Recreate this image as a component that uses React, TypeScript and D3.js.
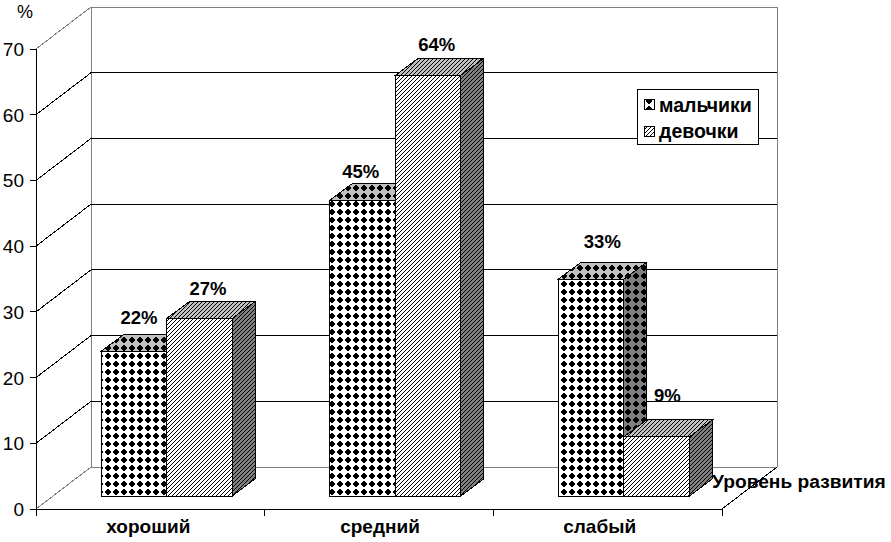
import * as d3 from 'd3'
import { useEffect, useRef } from 'react'

const categories = ['хороший', 'средний', 'слабый']
const seriesNames = ['мальчики', 'девочки']
const boys = [22, 45, 33]
const girls = [27, 64, 9]
const yTicks = [0, 10, 20, 30, 40, 50, 60, 70]

const width = 891
const height = 542
const font = 'Liberation Sans, Arial, sans-serif'

// oblique shift of the back wall and of the bars
const wallDx = 55
const wallDy = -42
const barDx = 23
const barDy = -17

export default function App() {
    const svgRef = useRef<SVGSVGElement>(null)

    useEffect(() => {
        if (!svgRef.current) return

        const svg = d3.select(svgRef.current)
        svg.selectAll('*').remove() // Clear previous chart

        const x = d3.scaleBand<string>().domain(categories).range([36, 722])
        const y = d3.scaleLinear().domain([0, 70]).range([509, 49])
        const inner = d3
            .scaleBand<string>()
            .domain(seriesNames)
            .range([0, 131])

        const defs = svg.append('defs')

        // dotted fill, base colour changes for front and shaded faces
        const dots = (id: string, bg: string) => {
            const p = defs
                .append('pattern')
                .attr('id', id)
                .attr('patternUnits', 'userSpaceOnUse')
                .attr('width', 8)
                .attr('height', 8)
            p.append('rect').attr('width', 8).attr('height', 8).attr('fill', bg)
            p.append('path')
                .attr('d', 'M4 0.5L7.5 4L4 7.5L0.5 4Z')
                .attr('fill', '#000')
        }
        dots('dots-front', '#fff')
        dots('dots-top', '#c0c0c0')
        dots('dots-side', '#808080')

        // 1px staircase hatch, same as the old bitmap fill
        const hatch = (id: string, bg: string) => {
            const p = defs
                .append('pattern')
                .attr('id', id)
                .attr('patternUnits', 'userSpaceOnUse')
                .attr('width', 4)
                .attr('height', 4)
            p.append('rect').attr('width', 4).attr('height', 4).attr('fill', bg)
            p.selectAll('rect.step')
                .data([0, 1, 2, 3])
                .enter()
                .append('rect')
                .attr('class', 'step')
                .attr('x', (d) => 3 - d)
                .attr('y', (d) => d)
                .attr('width', 1)
                .attr('height', 1)
                .attr('fill', '#000')
        }
        hatch('hatch-front', '#fff')
        hatch('hatch-top', '#c0c0c0')
        hatch('hatch-side', '#808080')

        const x0 = x.range()[0]
        const x1 = x.range()[1]
        const y0 = y(0)

        // Back wall and floor
        svg.append('path')
            .attr('d', `M${x0} ${y0}L${x0 + wallDx} ${y0 + wallDy}L${x1 + wallDx} ${y0 + wallDy}`)
            .attr('fill', 'none')
            .attr('stroke', '#808080')
        svg.append('path')
            .attr('d', `M${x0} ${y(70)}L${x0 + wallDx} ${y(70) + wallDy}L${x1 + wallDx} ${y(70) + wallDy}L${x1 + wallDx} ${y0 + wallDy}`)
            .attr('fill', 'none')
            .attr('stroke', '#808080')
        svg.append('line')
            .attr('x1', x0 + wallDx)
            .attr('x2', x0 + wallDx)
            .attr('y1', y(70) + wallDy)
            .attr('y2', y0 + wallDy)
            .attr('stroke', '#808080')

        // Gridlines on side and back wall
        yTicks
            .filter((t) => t > 0 && t < 70)
            .forEach((t) => {
                svg.append('path')
                    .attr('d', `M${x0} ${y(t)}L${x0 + wallDx} ${y(t) + wallDy}L${x1 + wallDx} ${y(t) + wallDy}`)
                    .attr('fill', 'none')
                    .attr('stroke', '#000')
            })

        // Bars, left to right
        const face = (d: string, fill: string) =>
            svg.append('path')
                .attr('d', d)
                .attr('fill', fill)
                .attr('stroke', '#000')
                .attr('stroke-linejoin', 'miter')

        const floorY = y0 - 13
        const shift = y(0) - floorY // bars stand forward of the wall on the floor

        const drawBar = (cat: string, name: string, value: number, kind: string) => {
            const left = (x(cat) as number) + 65 + (inner(name) as number)
            const right = left + inner.bandwidth()
            const top = y(value) - shift
            face(`M${left} ${top}L${left + barDx} ${top + barDy}L${right + barDx} ${top + barDy}L${right} ${top}Z`, `url(#${kind}-top)`)
            face(`M${right} ${top}L${right + barDx} ${top + barDy}L${right + barDx} ${floorY + barDy}L${right} ${floorY}Z`, `url(#${kind}-side)`)
            face(`M${left} ${top}L${right} ${top}L${right} ${floorY}L${left} ${floorY}Z`, `url(#${kind}-front)`)
        }

        categories.forEach((cat, i) => {
            drawBar(cat, seriesNames[0], boys[i], 'dots')
            drawBar(cat, seriesNames[1], girls[i], 'hatch')
        })

        // Axes
        const axisLine = (d: string) =>
            svg.append('path').attr('d', d).attr('fill', 'none').attr('stroke', '#000')
        axisLine(`M${x0} ${y(70)}L${x0} ${y0}L${x1} ${y0}`)
        axisLine(`M${x1} ${y0}L${x1 + wallDx} ${y0 + wallDy}`)
        yTicks.forEach((t) => axisLine(`M${x0 - 6} ${y(t)}L${x0} ${y(t)}`))
        categories.forEach((c) => axisLine(`M${x(c)} ${y0}L${x(c)} ${y0 + 7}`))
        axisLine(`M${x1} ${y0}L${x1} ${y0 + 7}`)

        const label = (tx: number, ty: number, s: string, size: number, weight: string, anchor = 'middle') =>
            svg.append('text')
                .attr('x', tx)
                .attr('y', ty)
                .attr('text-anchor', anchor)
                .attr('font-family', font)
                .attr('font-size', size)
                .attr('font-weight', weight)
                .attr('fill', '#000')
                .text(s)

        yTicks.forEach((t) => label(24, y(t) + 7, String(t), 19, 'normal', 'end'))
        label(25, 18, '%', 18, 'normal')

        // the original labels are not quite centred in their bands
        const catNudge = [-2, 1, -8]
        categories.forEach((c, i) =>
            label((x(c) as number) + x.bandwidth() / 2 + catNudge[i], 533, c, 19, 'bold')
        )
        label(712, 488, 'Уровень развития', 19.2, 'bold', 'start')

        // Value labels, hand placed in the original so nudged per bar
        const boysNudge = [[0, 0], [-7, 5], [6, -4]]
        const girlsNudge = [[0, 0], [0, 0], [2, -11]]
        categories.forEach((cat, i) => {
            const lx = (x(cat) as number) + 65
            label(lx + 38 + boysNudge[i][0], y(boys[i]) - shift - 27 + boysNudge[i][1], `${boys[i]}%`, 18.5, 'bold')
            label(lx + 107 + girlsNudge[i][0], y(girls[i]) - shift - 24 + girlsNudge[i][1], `${girls[i]}%`, 18.5, 'bold')
        })

        // Legend
        const legend = svg.append('g').attr('transform', 'translate(637,89)')
        legend.append('rect')
            .attr('width', 121)
            .attr('height', 55)
            .attr('fill', '#fff')
            .attr('stroke', '#000')
        seriesNames.forEach((name, i) => {
            legend.append('rect')
                .attr('x', 7)
                .attr('y', 10 + i * 27)
                .attr('width', 10)
                .attr('height', 10)
                .attr('fill', i === 0 ? 'url(#dots-front)' : 'url(#hatch-front)')
                .attr('stroke', '#000')
            legend.append('text')
                .attr('x', 22)
                .attr('y', 23 + i * 26)
                .attr('font-family', font)
                .attr('font-size', 19.5)
                .attr('font-weight', 'bold')
                .text(name)
        })
    }, [])

    return (
        <svg
            ref={svgRef}
            width={width}
            height={height}
            style={{ position: 'absolute', left: 0, top: 0, background: '#fff' }}
            shapeRendering="crispEdges"
        />
    )
}
